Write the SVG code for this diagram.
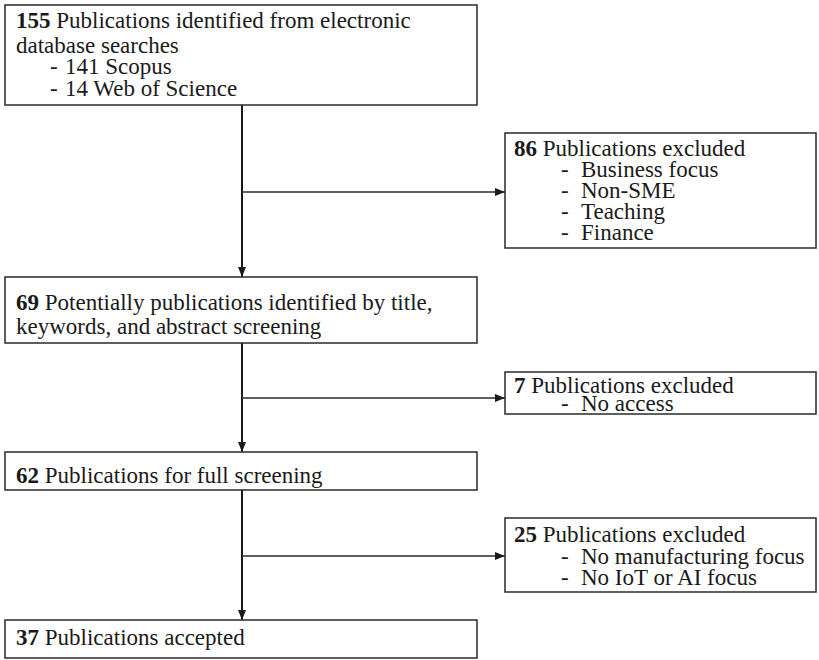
<svg xmlns="http://www.w3.org/2000/svg" width="819" height="660" viewBox="0 0 819 660">
  <defs>
    <marker id="arrow" viewBox="0 0 10 8" refX="10" refY="4" markerWidth="10" markerHeight="8" markerUnits="userSpaceOnUse" orient="auto">
      <path d="M0,0 L10,4 L0,8 Z" fill="#1a1a1a"/>
    </marker>
    <style>
      .box { fill: #ffffff; stroke: #2a2a2a; stroke-width: 1.5; }
      .txt { font-family: "Liberation Serif", "Times New Roman", serif; font-size: 23px; fill: #1a1a1a; }
      .num { font-weight: bold; }
      .main { fill: none; stroke: #1a1a1a; stroke-width: 2; }
      .side { fill: none; stroke: #2a2a2a; stroke-width: 1.6; }
    </style>
  </defs>
  <rect width="819" height="660" fill="#ffffff"/>

  <!-- connectors -->
  <g id="connectors">
    <line class="main" x1="242" y1="105" x2="242" y2="277" marker-end="url(#arrow)"/>
    <line class="side" x1="242" y1="192" x2="505" y2="192" marker-end="url(#arrow)"/>
    <line class="main" x1="242" y1="343" x2="242" y2="452" marker-end="url(#arrow)"/>
    <line class="side" x1="242" y1="398" x2="505" y2="398" marker-end="url(#arrow)"/>
    <line class="main" x1="242" y1="490" x2="242" y2="620" marker-end="url(#arrow)"/>
    <line class="side" x1="242" y1="556" x2="505" y2="556" marker-end="url(#arrow)"/>
  </g>

  <g id="identified">
    <rect class="box" x="5" y="5" width="472" height="100"/>
    <text class="txt" x="16" y="28"><tspan class="num">155</tspan> Publications identified from electronic</text>
    <text class="txt" x="16" y="53">database searches</text>
    <text class="txt" y="74"><tspan x="50">-</tspan><tspan x="65">141 Scopus</tspan></text>
    <text class="txt" y="96"><tspan x="50">-</tspan><tspan x="65">14 Web of Science</tspan></text>
  </g>

  <g id="excluded-86">
    <rect class="box" x="505" y="133" width="311" height="115"/>
    <text class="txt" x="514" y="156"><tspan class="num">86</tspan> Publications excluded</text>
    <text class="txt" y="177"><tspan x="561">-</tspan><tspan x="581">Business focus</tspan></text>
    <text class="txt" y="198"><tspan x="561">-</tspan><tspan x="581">Non-SME</tspan></text>
    <text class="txt" y="219"><tspan x="561">-</tspan><tspan x="581">Teaching</tspan></text>
    <text class="txt" y="240"><tspan x="561">-</tspan><tspan x="581">Finance</tspan></text>
  </g>

  <g id="screened">
    <rect class="box" x="5" y="277" width="472" height="66"/>
    <text class="txt" x="16" y="310"><tspan class="num">69</tspan> Potentially publications identified by title,</text>
    <text class="txt" x="16" y="334">keywords, and abstract screening</text>
  </g>

  <g id="excluded-7">
    <rect class="box" x="505" y="372" width="311" height="42"/>
    <text class="txt" x="514" y="393"><tspan class="num">7</tspan> Publications excluded</text>
    <text class="txt" y="411"><tspan x="561">-</tspan><tspan x="581">No access</tspan></text>
  </g>

  <g id="full-screening">
    <rect class="box" x="5" y="452" width="472" height="38"/>
    <text class="txt" x="16" y="483"><tspan class="num">62</tspan> Publications for full screening</text>
  </g>

  <g id="excluded-25">
    <rect class="box" x="505" y="518" width="311" height="74"/>
    <text class="txt" x="514" y="542"><tspan class="num">25</tspan> Publications excluded</text>
    <text class="txt" y="564"><tspan x="561">-</tspan><tspan x="581">No manufacturing focus</tspan></text>
    <text class="txt" y="585"><tspan x="561">-</tspan><tspan x="581">No IoT or AI focus</tspan></text>
  </g>

  <g id="accepted">
    <rect class="box" x="5" y="620" width="472" height="38"/>
    <text class="txt" x="16" y="645"><tspan class="num">37</tspan> Publications accepted</text>
  </g>
</svg>
